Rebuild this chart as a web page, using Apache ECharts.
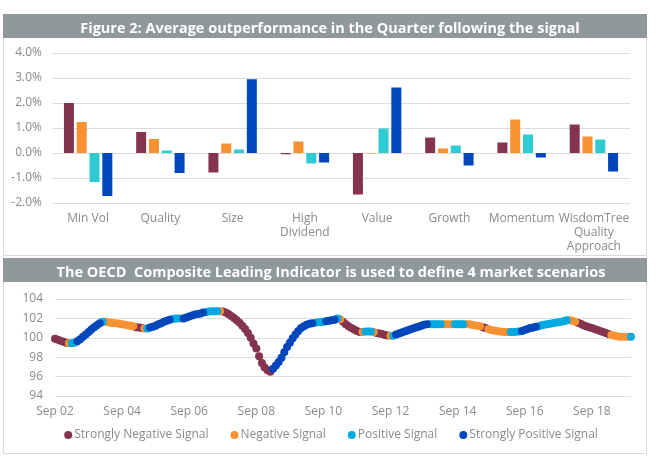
<!DOCTYPE html>
<html>
<head>
<meta charset="utf-8">
<script src="https://cdn.jsdelivr.net/npm/echarts@6/dist/echarts.min.js"></script>
<style>
html,body{margin:0;padding:0;background:#fff;}
#chart{width:662px;height:465px;}
</style>
</head>
<body>
<div id="chart"></div>
<script>
// ---- Top chart data ----
const factorCategories = ['Min Vol', 'Quality', 'Size', 'High\nDividend', 'Value', 'Growth', 'Momentum', 'WisdomTree\nQuality\nApproach'];
const strongNegOutperf = [2.00, 0.84, -0.78, -0.05, -1.66, 0.62, 0.42, 1.14];
const negOutperf       = [1.24, 0.56, 0.38, 0.46, -0.02, 0.18, 1.34, 0.66];
const posOutperf       = [-1.16, 0.10, 0.14, -0.42, 0.98, 0.30, 0.74, 0.54];
const strongPosOutperf = [-1.72, -0.80, 2.95, -0.38, 2.62, -0.50, -0.18, -0.74];
const outperfTicks = [-2, -1, 0, 1, 2, 3, 4];

// ---- Bottom chart data (monthly, Sep 2002 - Nov 2019) ----
const signalNames = ['Strongly Negative Signal', 'Negative Signal', 'Positive Signal', 'Strongly Positive Signal'];
const cliValues = [
 99.9, 99.8, 99.7, 99.6, 99.5, 99.45, 99.45, 99.5, 99.65, 99.85,
 100.1, 100.35, 100.6, 100.85, 101.1, 101.3, 101.5, 101.65, 101.65, 101.6,
 101.55, 101.5, 101.5, 101.45, 101.4, 101.35, 101.3, 101.25, 101.2, 101.1,
 101.05, 101.0, 100.95, 100.95, 101.05, 101.15, 101.25, 101.4, 101.5, 101.65,
 101.75, 101.85, 101.95, 102.0, 102.0, 102.0, 102.0, 102.1, 102.2, 102.3,
 102.4, 102.45, 102.5, 102.6, 102.65, 102.7, 102.75, 102.75, 102.75, 102.75,
 102.7, 102.6, 102.45, 102.25, 102.05, 101.8, 101.55, 101.25, 100.9, 100.5,
 100.0, 99.4, 98.9, 98.1, 97.4, 96.95, 96.65, 96.5, 96.8, 97.15,
 97.5, 97.95, 98.5, 99.05, 99.5, 99.95, 100.35, 100.7, 101.0, 101.2,
 101.35, 101.45, 101.5, 101.55, 101.6, 101.6, 101.65, 101.7, 101.75, 101.8,
 101.85, 102.0, 101.9, 101.65, 101.4, 101.2, 101.0, 100.85, 100.7, 100.6,
 100.6, 100.65, 100.65, 100.65, 100.6, 100.5, 100.45, 100.4, 100.3, 100.25,
 100.2, 100.2, 100.35, 100.45, 100.55, 100.65, 100.75, 100.85, 100.95, 101.05,
 101.15, 101.25, 101.35, 101.4, 101.4, 101.4, 101.4, 101.4, 101.4, 101.4,
 101.4, 101.4, 101.4, 101.4, 101.4, 101.4, 101.4, 101.4, 101.4, 101.35,
 101.3, 101.25, 101.2, 101.1, 101.0, 100.9, 100.8, 100.75, 100.7, 100.65,
 100.62, 100.6, 100.6, 100.6, 100.6, 100.62, 100.65, 100.7, 100.8, 100.9,
 101.0, 101.05, 101.15, 101.2, 101.3, 101.35, 101.4, 101.45, 101.5, 101.55,
 101.6, 101.65, 101.7, 101.8, 101.8, 101.75, 101.65, 101.55, 101.45, 101.3,
 101.2, 101.1, 101.0, 100.9, 100.8, 100.7, 100.6, 100.5, 100.4, 100.3,
 100.2, 100.15, 100.1, 100.1, 100.1, 100.1, 100.1
];
// 0 = strongly negative, 1 = negative, 2 = positive, 3 = strongly positive
const cliSignals = [
 0,0,0,0,0,1,2,2,3,3,
 3,3,3,3,3,3,3,2,1,1,
 1,1,1,1,1,1,1,1,1,0,
 0,0,1,2,3,3,3,3,3,3,
 3,3,2,2,2,1,3,3,3,3,
 3,3,3,3,2,2,2,2,2,1,
 0,0,0,0,0,0,0,0,0,0,
 0,0,0,0,0,0,0,0,3,3,
 3,3,3,3,3,3,3,3,3,3,
 3,3,3,1,2,2,2,3,3,3,
 3,2,1,0,0,0,0,0,0,0,
 1,2,2,2,1,0,0,0,0,0,
 1,2,3,3,3,3,3,3,3,3,
 3,3,3,3,2,2,2,2,2,1,
 1,1,1,2,2,2,2,1,1,1,
 1,1,1,0,0,1,1,1,1,1,
 1,1,1,2,2,2,2,3,3,3,
 3,3,3,2,2,2,2,2,2,2,
 2,2,2,2,1,1,1,0,0,0,
 0,0,0,0,0,0,0,0,0,1,
 1,1,1,1,1,1,2
];
const cliStartYear = 2002, cliStartMonth = 8; // Sep 2002 (0-based month)
const cliTickLabels = ['Sep 02', 'Sep 04', 'Sep 06', 'Sep 08', 'Sep 10', 'Sep 12', 'Sep 14', 'Sep 16', 'Sep 18'];
const cliTicks = [94, 96, 98, 100, 102, 104];

const monthNames = ['Jan','Feb','Mar','Apr','May','Jun','Jul','Aug','Sep','Oct','Nov','Dec'];
const cliMonths = cliValues.map((v, i) => {
  const t = cliStartMonth + i;
  const y = cliStartYear + Math.floor(t / 12);
  return monthNames[t % 12] + ' ' + String(y % 100).padStart(2, '0');
});

const colors = ['#84344e', '#f79232', '#2ecbd3', '#0047bb'];
const colorsLine = ['#84344e', '#f79232', '#00a9e0', '#0047bb'];
const font = '"Open Sans", "Noto Sans", sans-serif';
const grey = '#8a8a8a';
const gridGrey = '#dcdcdc';

const barSeries = [strongNegOutperf, negOutperf, posOutperf, strongPosOutperf].map((arr, k) => ({
  name: signalNames[k],
  type: 'bar',
  xAxisIndex: 0, yAxisIndex: 0,
  data: arr,
  barWidth: 10,
  barGap: '28%',
  itemStyle: { color: colors[k] },
  silent: true
}));

const dotSeries = [0, 1, 2, 3].map(k => ({
  name: signalNames[k],
  type: 'scatter',
  xAxisIndex: 1, yAxisIndex: 1,
  symbol: 'circle',
  symbolSize: 8,
  itemStyle: { color: colorsLine[k], opacity: 1 },
  data: cliValues.map((v, i) => cliSignals[i] === k ? v : '-'),
  silent: true
}));

const chart = echarts.init(document.getElementById('chart'), null, { renderer: 'canvas' });
chart.setOption({
  animation: false,
  backgroundColor: '#fff',
  textStyle: { fontFamily: font },
  graphic: [
    { type: 'rect', shape: { x: 3.5, y: 14.5, width: 643, height: 241 }, style: { fill: 'none', stroke: '#d9d9d9', lineWidth: 1 }, silent: true },
    { type: 'rect', shape: { x: 3, y: 14, width: 644, height: 24 }, style: { fill: '#8f999c' }, silent: true },
    { type: 'rect', shape: { x: 3.5, y: 258.5, width: 643, height: 195 }, style: { fill: 'none', stroke: '#d9d9d9', lineWidth: 1 }, silent: true },
    { type: 'rect', shape: { x: 3, y: 258, width: 644, height: 24 }, style: { fill: '#8f999c' }, silent: true }
  ],
  title: [
    { text: 'Figure 2: Average outperformance in the Quarter following the signal', left: 325, textAlign: 'center', top: 16,
      textStyle: { color: '#fff', fontSize: 14.5, fontWeight: 'bold', fontFamily: font } },
    { text: 'The OECD  Composite Leading Indicator is used to define 4 market scenarios', left: 326, textAlign: 'center', top: 260,
      textStyle: { color: '#fff', fontSize: 14.5, fontWeight: 'bold', fontFamily: font } }
  ],
  legend: {
    data: signalNames.map((n, k) => ({ name: n, itemStyle: { color: colorsLine[k] } })),
    left: 'center', top: 424,
    icon: 'circle', itemWidth: 8, itemHeight: 8, itemGap: 22,
    textStyle: { color: grey, fontSize: 12, fontFamily: font, padding: [0, 0, 0, -3] },
    selectedMode: false
  },
  grid: [
    { left: 52, right: 32, top: 53, height: 150 },
    { left: 55, right: 31, top: 299, height: 97 }
  ],
  xAxis: [
    { type: 'category', gridIndex: 0, data: factorCategories,
      axisLine: { show: false, onZero: false }, axisTick: { show: false },
      axisLabel: { color: grey, fontSize: 12, fontFamily: font, margin: 9, lineHeight: 14, interval: 0 } },
    { type: 'category', gridIndex: 1, data: cliMonths, boundaryGap: false,
      axisLine: { show: false }, axisTick: { show: false },
      axisLabel: { color: grey, fontSize: 12, fontFamily: font, margin: 10,
        interval: (idx, val) => cliTickLabels.indexOf(val) >= 0 } }
  ],
  yAxis: [
    { type: 'value', gridIndex: 0, min: outperfTicks[0], max: outperfTicks[outperfTicks.length - 1], interval: 1,
      axisLine: { show: false }, axisTick: { show: false },
      splitLine: { lineStyle: { color: gridGrey, width: 1 } },
      axisLabel: { color: grey, fontSize: 12, fontFamily: font, margin: 10, formatter: v => v.toFixed(1) + '%' } },
    { type: 'value', gridIndex: 1, min: cliTicks[0], max: cliTicks[cliTicks.length - 1], interval: 2,
      axisLine: { show: false }, axisTick: { show: false },
      splitLine: { lineStyle: { color: gridGrey, width: 1 } },
      axisLabel: { color: grey, fontSize: 12, fontFamily: font, margin: 12 } }
  ],
  series: barSeries.concat(dotSeries)
});
</script>
</body>
</html>
